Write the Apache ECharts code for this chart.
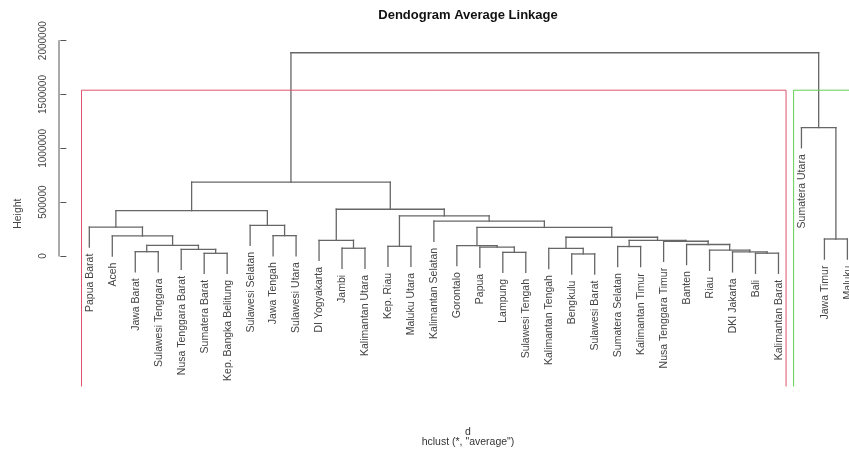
<!DOCTYPE html>
<html>
<head>
<meta charset="utf-8">
<title>Dendogram Average Linkage</title>
<script src="https://cdn.jsdelivr.net/npm/echarts@6/dist/echarts.min.js"></script>
<style>
  html, body { margin: 0; padding: 0; background: #ffffff; }
  #chart { width: 849px; height: 454px; }
</style>
</head>
<body>
<div id="chart"></div>
<script>
// Province names, numbered 1..34 in the order they sit along the x axis
const leafNames = [
  'Papua Barat', 'Aceh', 'Jawa Barat', 'Sulawesi Tenggara', 'Nusa Tenggara Barat',
  'Sumatera Barat', 'Kep. Bangka Belitung', 'Sulawesi Selatan', 'Jawa Tengah', 'Sulawesi Utara',
  'DI Yogyakarta', 'Jambi', 'Kalimantan Utara', 'Kep. Riau', 'Maluku Utara',
  'Kalimantan Selatan', 'Gorontalo', 'Papua', 'Lampung', 'Sulawesi Tengah',
  'Kalimantan Tengah', 'Bengkulu', 'Sulawesi Barat', 'Sumatera Selatan', 'Kalimantan Timur',
  'Nusa Tenggara Timur', 'Banten', 'Riau', 'DKI Jakarta', 'Bali',
  'Kalimantan Barat', 'Sumatera Utara', 'Jawa Timur', 'Maluku'
];

// hclust merge table: a negative entry is a leaf (1-based), a positive one an earlier merge row
const mergeLeft = [
  -3, -6, -5, 1, -2, -1, -9, -8, 6, -12,
  -11, -14, -19, -18, -17, -22, -21, -30, -29, -28,
  -27, -26, -24, 23, 17, 15, -16, 12, 11, 9,
  -33, -32, 30
];
const mergeRight = [
  -4, -7, 2, 3, 4, 5, -10, 7, 8, -13,
  10, -15, -20, 13, 14, -23, 16, -31, 18, 19,
  20, 21, -25, 22, 24, 25, 26, 27, 28, 29,
  -34, 31, 32
];
const mergeHeight = [
  40000, 25000, 62000, 99000, 186000, 269000, 189000, 285000, 421000, 72000,
  146000, 90000, 34000, 82000, 97000, 19000, 70000, 26000, 39000, 54000,
  107000, 137000, 88000, 146000, 174000, 265000, 323000, 373000, 434000, 687000,
  158000, 1192000, 1888000
];

const yTicks = [0, 500000, 1000000, 1500000, 2000000];
const boxColors = ['#DF536B', '#61D04F'];
const clusterCount = 2;

const Y_MIN = -1214000;
const Y_MAX = 2000000;
const X_MIN = -0.32;
const X_MAX = 34.07;
const FONT = '"Liberation Sans", Arial, Helvetica, sans-serif';

// ---- tree layout (same rules as plot.hclust) ----
const nMerge = mergeHeight.length;
const hang = 0.1 * (Math.max(...mergeHeight) - Math.min(...mergeHeight));

const order = [];
(function walk(id) {
  if (id < 0) { order.push(-id); return; }
  walk(mergeLeft[id - 1]);
  walk(mergeRight[id - 1]);
})(nMerge);

const leafPos = {};
order.forEach((leaf, i) => { leafPos[leaf] = i + 1; });

const nodeX = [];
const xOf = id => (id < 0 ? leafPos[-id] : nodeX[id - 1]);
for (let i = 0; i < nMerge; i++) {
  nodeX[i] = (xOf(mergeLeft[i]) + xOf(mergeRight[i])) / 2;
}

const segments = [];
const leafEnd = {};
for (let i = 0; i < nMerge; i++) {
  const h = mergeHeight[i];
  const l = mergeLeft[i], r = mergeRight[i];
  segments.push([xOf(l), h, xOf(r), h]);
  [l, r].forEach(child => {
    const x = xOf(child);
    const bottom = child < 0 ? h - hang : mergeHeight[child - 1];
    segments.push([x, h, x, bottom]);
    if (child < 0) leafEnd[-child] = bottom;
  });
}

// y axis line spans only the tick range
const axisSegments = [[X_MIN, yTicks[0], X_MIN, yTicks[yTicks.length - 1]]];

const labelData = order.map(leaf => [leafPos[leaf], leafEnd[leaf], leafNames[leaf - 1]]);

// ---- cluster boxes (rect.hclust, k = 2) ----
const sortedH = mergeHeight.slice().sort((a, b) => a - b);
const cutTop = (sortedH[nMerge - 1] + sortedH[nMerge - clusterCount]) / 2;
function leavesOf(id, out) {
  if (id < 0) { out.push(-id); return out; }
  leavesOf(mergeLeft[id - 1], out);
  leavesOf(mergeRight[id - 1], out);
  return out;
}
const boxData = [mergeLeft[nMerge - 1], mergeRight[nMerge - 1]].map((child, k) => {
  const pos = leavesOf(child, []).map(l => leafPos[l]);
  return [Math.min(...pos) - 0.34, Math.max(...pos) + 0.33, cutTop, k];
});

function segmentItem(color, width) {
  return function (params, api) {
    const p1 = api.coord([api.value(0), api.value(1)]);
    const p2 = api.coord([api.value(2), api.value(3)]);
    return {
      type: 'line',
      shape: { x1: p1[0], y1: p1[1], x2: p2[0], y2: p2[1] },
      style: { stroke: color, lineWidth: width, lineCap: 'square' }
    };
  };
}

const chart = echarts.init(document.getElementById('chart'), null, { renderer: 'canvas' });

chart.setOption({
  animation: false,
  backgroundColor: '#ffffff',
  title: [
    {
      text: 'Dendogram Average Linkage',
      left: 468, top: 9, textAlign: 'center', padding: 0,
      textStyle: { fontFamily: FONT, fontSize: 13, fontWeight: 'bold', color: '#111' }
    },
    {
      text: 'd',
      left: 468, top: 427, textAlign: 'center', padding: 0,
      textStyle: { fontFamily: FONT, fontSize: 10.5, fontWeight: 'normal', color: '#333' }
    },
    {
      text: 'hclust (*, "average")',
      left: 468, top: 437, textAlign: 'center', padding: 0,
      textStyle: { fontFamily: FONT, fontSize: 10.5, fontWeight: 'normal', color: '#333' }
    }
  ],
  grid: { left: 59, right: 0, top: 40.67, bottom: 67.3, containLabel: false },
  xAxis: {
    type: 'value', min: X_MIN, max: X_MAX, show: false
  },
  yAxis: {
    type: 'value', min: Y_MIN, max: Y_MAX,
    name: 'Height', nameLocation: 'middle', nameGap: 35, nameRotate: 90,
    nameTextStyle: { fontFamily: FONT, fontSize: 10.5, color: '#444' },
    axisLine: { show: false },
    splitLine: { show: false },
    axisTick: { show: true, length: 6, customValues: yTicks, lineStyle: { color: '#555', width: 1 } },
    axisLabel: {
      show: true, customValues: yTicks, rotate: 90, margin: 11,
      fontFamily: FONT, fontSize: 10, color: '#444',
      formatter: v => String(v)
    }
  },
  series: [
    {
      type: 'custom', name: 'axis', clip: false, silent: true,
      renderItem: segmentItem('#555', 1),
      data: axisSegments
    },
    {
      type: 'custom', name: 'dendrogram', clip: false, silent: true,
      renderItem: segmentItem('#666', 1.3),
      data: segments
    },
    {
      type: 'custom', name: 'labels', clip: false, silent: true,
      renderItem: function (params, api) {
        const p = api.coord([api.value(0), api.value(1)]);
        return {
          type: 'text',
          x: p[0] + 0.5, y: p[1] + 6.5,
          rotation: Math.PI / 2,
          style: {
            text: labelData[params.dataIndex][2],
            fill: '#444',
            fontFamily: FONT,
            fontSize: 10.5,
            align: 'right', verticalAlign: 'middle',
            textAlign: 'right', textVerticalAlign: 'middle'
          }
        };
      },
      data: labelData
    },
    {
      type: 'custom', name: 'clusters', clip: true, silent: true,
      renderItem: function (params, api) {
        const x1 = api.value(0), x2 = api.value(1), top = api.value(2);
        const a = api.coord([x1, Y_MIN]);
        const b = api.coord([x1, top]);
        const c = api.coord([x2, top]);
        const d = api.coord([x2, Y_MIN]);
        return {
          type: 'polyline',
          shape: { points: [a, b, c, d] },
          style: { stroke: boxColors[api.value(3)], lineWidth: 1, fill: null }
        };
      },
      data: boxData
    }
  ]
});
</script>
</body>
</html>
